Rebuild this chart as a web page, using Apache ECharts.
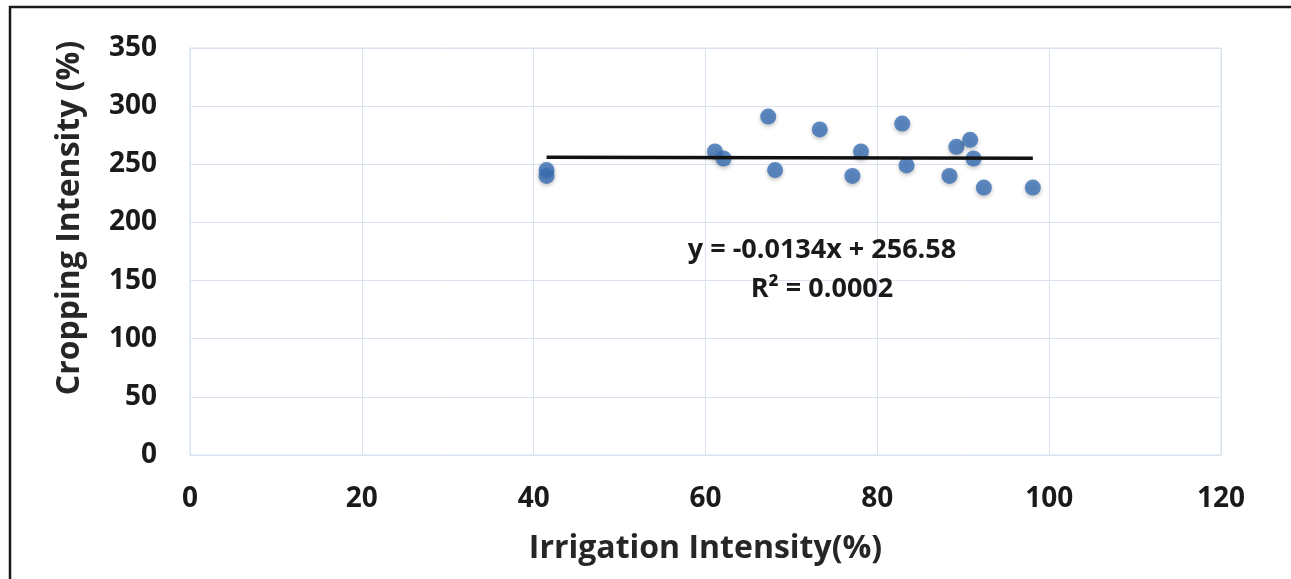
<!DOCTYPE html>
<html>
<head>
    <meta charset="utf-8">
    <title>Cropping vs Irrigation Intensity</title>
    <script src="https://cdn.jsdelivr.net/npm/echarts@6/dist/echarts.min.js"></script>
</head>
<body>
<style>
    html, body, #main {
        width: 100%;
        height: 100%;
        padding: 0;
        margin: 0;
        background: #fff;
    }
</style>

<div id="main"></div>

<script type="text/javascript">
    // irrigation intensity (%) and cropping intensity (%) per district
    var irrigation = [41.5, 41.5, 61.1, 62.1, 67.3, 68.1, 73.3, 78.1, 77.1, 82.9, 83.4, 89.2, 90.8, 91.2, 88.4, 92.4, 98.1];
    var cropping   = [245,  240,  261,  255,  291,  245,  280,  261,  240,  285,  249,  265,  271,  255,  240,  230,  230];

    // linear trendline as reported in the chart
    var slope = -0.0134;
    var intercept = 256.58;
    var rSquared = '0.0002';

    var xTicks = [0, 20, 40, 60, 80, 100, 120];
    var yTicks = [0, 50, 100, 150, 200, 250, 300, 350];

    var points = irrigation.map(function (x, i) { return [x, cropping[i]]; });
    var xMin = Math.min.apply(null, irrigation);
    var xMax = Math.max.apply(null, irrigation);
    var trend = [[xMin, intercept + slope * xMin], [xMax, intercept + slope * xMax]];

    var font = '"Open Sans", "Liberation Sans", sans-serif';
    var gridColor = '#d9e2ee';

    var myChart = echarts.init(document.getElementById('main'));

    myChart.setOption({
        animation: false,
        backgroundColor: '#fff',
        textStyle: { fontFamily: font },
        grid: { left: 190, top: 48, width: 1031, height: 407, show: true, borderColor: gridColor, borderWidth: 1 },
        xAxis: {
            type: 'value',
            min: xTicks[0],
            max: xTicks[xTicks.length - 1],
            interval: 20,
            name: 'Irrigation Intensity(%)',
            nameLocation: 'middle',
            nameGap: 78,
            nameTextStyle: { fontSize: 32, fontWeight: 'bold', color: '#262626', fontFamily: font },
            axisLine: { lineStyle: { color: gridColor } },
            axisTick: { show: false },
            axisLabel: { fontSize: 28, fontWeight: 'bold', color: '#1a1a1a', margin: 30, fontFamily: font },
            splitLine: { lineStyle: { color: gridColor } }
        },
        yAxis: {
            type: 'value',
            min: yTicks[0],
            max: yTicks[yTicks.length - 1],
            interval: 50,
            name: 'Cropping Intensity (%)',
            nameLocation: 'middle',
            nameGap: 104,
            nameTextStyle: { fontSize: 32, fontWeight: 'bold', color: '#262626', fontFamily: font, padding: [0, 0, 0, 67] },
            axisLine: { show: true, lineStyle: { color: gridColor } },
            axisTick: { show: false },
            axisLabel: { fontSize: 28, fontWeight: 'bold', color: '#1a1a1a', margin: 33, fontFamily: font },
            splitLine: { lineStyle: { color: gridColor } }
        },
        graphic: [
            {
                type: 'polyline',
                shape: { points: [[10, 600], [10, 7], [1300, 7]] },
                style: { stroke: '#1a1a1a', lineWidth: 2.5, fill: null },
                z: 10
            },
            {
                type: 'text',
                x: 822,
                y: 250,
                style: {
                    text: 'y = ' + slope + 'x + ' + intercept,
                    align: 'center',
                    verticalAlign: 'middle',
                    font: 'bold 27px ' + font,
                    fill: '#1a1a1a'
                },
                z: 10
            },
            {
                type: 'text',
                x: 822,
                y: 289,
                style: {
                    text: 'R² = ' + rSquared,
                    align: 'center',
                    verticalAlign: 'middle',
                    font: 'bold 27px ' + font,
                    fill: '#1a1a1a'
                },
                z: 10
            }
        ],
        series: [
            {
                type: 'scatter',
                data: points,
                symbolSize: 16,
                itemStyle: {
                    color: '#3a6fb5',
                    shadowColor: 'rgba(0,0,0,0.3)',
                    shadowBlur: 4,
                    shadowOffsetY: 2
                },
                z: 3
            },
            {
                type: 'line',
                data: trend,
                symbol: 'none',
                lineStyle: { color: '#111', width: 3.5 },
                z: 4
            }
        ]
    });
</script>
</body>
</html>
